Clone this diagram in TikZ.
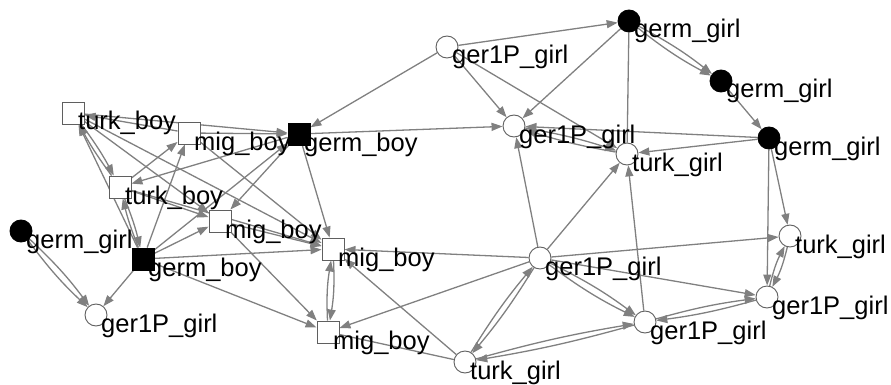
\documentclass[tikz,border=0pt]{standalone}
\usepackage{fontspec}
\setmainfont{Liberation Sans}
\usetikzlibrary{arrows.meta,backgrounds}
\definecolor{edgegray}{RGB}{128,128,128}
\definecolor{rimgray}{RGB}{95,95,95}
\begin{document}
\begin{tikzpicture}[x=1pt,y=-1pt,
  edge/.style={draw=edgegray,line width=1.3pt,-{Triangle[length=11pt,width=8pt]}},
  link/.style={draw=edgegray,line width=1.3pt},
  girl/.style={circle,draw=rimgray,fill=white,line width=0.9pt,minimum size=22pt,inner sep=0pt},
  boy/.style={rectangle,draw=rimgray,fill=white,line width=0.9pt,minimum size=22pt,inner sep=0pt},
  germ/.style={fill=black,draw=black},
  lab/.style={anchor=base west,inner sep=0pt,font=\fontsize{25.5}{30}\selectfont}]
\useasboundingbox (0,0) rectangle (891,385);

% pupils
\node[girl]      (A) at (447,47)  {};
\node[girl,germ] (B) at (629,21)  {};
\node[girl,germ] (C) at (721,81)  {};
\node[girl,germ] (D) at (769,138) {};
\node[girl]      (E) at (514,126) {};
\node[girl]      (F) at (627,154) {};
\node[boy]       (G) at (73,113)  {};
\node[boy]       (H) at (189,133) {};
\node[boy,germ]  (I) at (299,134) {};
\node[boy]       (J) at (120,187) {};
\node[boy]       (K) at (220,221) {};
\node[girl,germ] (L) at (21,231)  {};
\node[boy,germ]  (M) at (143,259) {};
\node[boy]       (N) at (333,249) {};
\node[girl]      (O) at (540,258) {};
\node[girl]      (P) at (790,236) {};
\node[girl]      (Q) at (96,315)  {};
\node[boy]       (R) at (328,332) {};
\node[girl]      (S) at (645,322) {};
\node[girl]      (T) at (767,297) {};
\node[girl]      (U) at (465,362) {};

% names
\node[lab] (lA) at ([shift={(5,17)}]A.center) {ger1P\_girl};
\node[lab] (lB) at ([shift={(5,17)}]B.center) {germ\_girl};
\node[lab] (lC) at ([shift={(5,17)}]C.center) {germ\_girl};
\node[lab] (lD) at ([shift={(5,17)}]D.center) {germ\_girl};
\node[lab] (lE) at ([shift={(5,17)}]E.center) {ger1P\_girl};
\node[lab] (lF) at ([shift={(5,17)}]F.center) {turk\_girl};
\node[lab] (lG) at ([shift={(5,17)}]G.center) {turk\_boy};
\node[lab] (lH) at ([shift={(5,17)}]H.center) {mig\_boy};
\node[lab] (lI) at ([shift={(5,17)}]I.center) {germ\_boy};
\node[lab] (lJ) at ([shift={(5,17)}]J.center) {turk\_boy};
\node[lab] (lK) at ([shift={(5,17)}]K.center) {mig\_boy};
\node[lab] (lL) at ([shift={(5,17)}]L.center) {germ\_girl};
\node[lab] (lM) at ([shift={(5,17)}]M.center) {germ\_boy};
\node[lab] (lN) at ([shift={(5,17)}]N.center) {mig\_boy};
\node[lab] (lO) at ([shift={(5,17)}]O.center) {ger1P\_girl};
\node[lab] (lP) at ([shift={(5,17)}]P.center) {turk\_girl};
\node[lab] (lQ) at ([shift={(5,17)}]Q.center) {ger1P\_girl};
\node[lab] (lR) at ([shift={(5,17)}]R.center) {mig\_boy};
\node[lab] (lS) at ([shift={(5,17)}]S.center) {ger1P\_girl};
\node[lab] (lT) at ([shift={(5,17)}]T.center) {ger1P\_girl};
\node[lab] (lU) at ([shift={(5,17)}]U.center) {turk\_girl};

% ties
\begin{scope}[on background layer]
  % right-hand group
  \draw[edge] (A) -- (B);
  \draw[edge] (A) -- (E);
  \draw[edge] (A) -- (F);
  \draw[edge] (A) -- (I);
  \draw[edge] (B) to[bend left=5] (C);
  \draw[edge] (B) to[bend right=5] (C);
  \draw[edge] (B) -- (E);
  \draw[link] (B) -- (F);
  \draw[edge] (C) -- (D);
  \draw[edge] (D) -- (E);
  \draw[edge] (D) -- (F);
  \draw[edge] (D) -- (P);
  \draw[edge] (D) -- (T);
  \draw[edge] (E) to[bend left=4] (F);
  \draw[edge] (F) to[bend left=4] (E);
  \draw[edge] (I) -- (E);
  \draw[edge] (O) -- (E);
  \draw[edge] (O) -- (F);
  \draw[edge] (S) -- (F);
  \draw[edge] (O) -- (P);
  \draw[edge] (O) -- (T);
  \draw[edge] (O) to[bend left=5] (S);
  \draw[edge] (O) to[bend right=5] (S);
  \draw[edge] (S) to[bend left=4] (T);
  \draw[edge] (T) to[bend left=4] (S);
  \draw[edge] (P) to[bend left=7] (T);
  \draw[edge] (T) to[bend left=7] (P);
  \draw[edge] (U) to[bend left=3] (S);
  \draw[edge] (S) to[bend left=3] (U);
  \draw[edge] (U) to[bend left=4] (O);
  \draw[edge] (O) to[bend left=4] (U);
  \draw[edge] (O) -- (N);
  \draw[edge] (O) -- (R);
  \draw[edge] (U) -- (N);
  \draw[link] (U) -- (R);
  \draw[edge] (N) to[bend left=6] (R);
  \draw[edge] (R) to[bend left=6] (N);
  % left-hand group
  \draw[edge] (H) -- (G);
  \draw[edge] (G) -- (I);
  \draw[edge] (H) -- (I);
  \draw[edge] (G) to[bend left=4] (J);
  \draw[edge] (J) to[bend left=4] (G);
  \draw[edge] (M) -- (G);
  \draw[edge] (G) -- (K);
  \draw[edge] (G) -- (N);
  \draw[edge] (J) -- (H);
  \draw[edge] (M) -- (H);
  \draw[edge] (H) -- (N);
  \draw[edge] (I) -- (K);
  \draw[edge] (I) -- (J);
  \draw[edge] (I) -- (N);
  \draw[edge] (M) -- (I);
  \draw[edge] (J) -- (K);
  \draw[edge] (M) -- (K);
  \draw[edge] (J) -- (N);
  \draw[edge] (K) -- (N);
  \draw[edge] (M) -- (N);
  \draw[edge] (K) -- (R);
  \draw[edge] (M) -- (R);
  \draw[edge] (M) -- (Q);
  \draw[edge] (L) to[bend left=5] (Q);
  \draw[edge] (L) to[bend right=5] (Q);
  \draw[edge] (J) to[bend left=4] (M);
  \draw[edge] (M) to[bend left=4] (J);
\end{scope}
\end{tikzpicture}
\end{document}
